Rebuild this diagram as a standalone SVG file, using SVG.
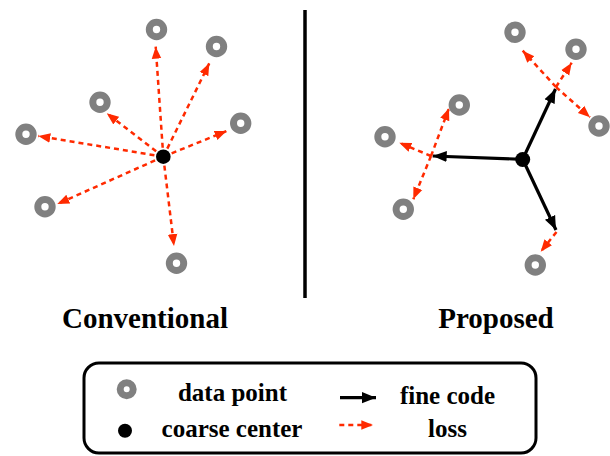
<svg xmlns="http://www.w3.org/2000/svg" width="610" height="456" viewBox="0 0 610 456">
<style>
.ring{fill:#fff;stroke:#808080;stroke-width:7}
.dot{fill:#000}
.loss{stroke:#ff2a00;stroke-width:2.5;stroke-dasharray:5 4;fill:none;marker-end:url(#redHead)}
.code{stroke:#000;stroke-width:3.2;fill:none;marker-end:url(#blackHead)}
.t{font-family:"Liberation Serif","Times New Roman",serif;font-weight:bold;fill:#000;text-anchor:middle}
.h{font-size:29px}
.l{font-size:25px}
</style>
<defs>
<marker id="redHead" markerUnits="userSpaceOnUse" markerWidth="12" markerHeight="12" refX="10" refY="5" orient="auto" viewBox="0 0 10 10">
<path d="M0,1 L10,5 L0,9 Z" fill="#ff2a00"/>
</marker>
<marker id="blackHead" markerUnits="userSpaceOnUse" markerWidth="14" markerHeight="14" refX="10" refY="5" orient="auto" viewBox="0 0 10 10">
<path d="M0,1 L10,5 L0,9 Z" fill="#000"/>
</marker>
</defs>

<g id="connectors">
<line class="loss" x1="163.3" y1="156.7" x2="155.7" y2="46.7"/>
<line class="loss" x1="163.3" y1="156.7" x2="209.3" y2="63.3"/>
<line class="loss" x1="163.3" y1="156.7" x2="106.7" y2="113.3"/>
<line class="loss" x1="163.3" y1="156.7" x2="38.3" y2="136"/>
<line class="loss" x1="163.3" y1="156.7" x2="226.7" y2="131"/>
<line class="loss" x1="163.3" y1="156.7" x2="57.3" y2="204"/>
<line class="loss" x1="163.3" y1="156.7" x2="174" y2="246"/>
<line class="code" x1="522.7" y1="159.3" x2="432.7" y2="156"/>
<line class="code" x1="522.7" y1="159.3" x2="555.5" y2="89"/>
<line class="code" x1="522.7" y1="159.3" x2="556" y2="230"/>
<line class="loss" x1="431" y1="156" x2="449" y2="108.3"/>
<line class="loss" x1="431" y1="156" x2="399.3" y2="142.7"/>
<line class="loss" x1="431" y1="156" x2="413.3" y2="199.3"/>
<line class="loss" x1="556" y1="87" x2="522.7" y2="50.7"/>
<line class="loss" x1="556" y1="87" x2="571.7" y2="62.7"/>
<line class="loss" x1="556" y1="87" x2="590" y2="117.3"/>
<line class="loss" x1="556.5" y1="232" x2="540.7" y2="251.7"/>
<line x1="305" y1="10" x2="305" y2="298" stroke="#000" stroke-width="3.5"/>
</g>

<g id="conventional">
<circle class="ring" cx="156.5" cy="29.5" r="7.2"/>
<circle class="ring" cx="216.5" cy="46.5" r="7.2"/>
<circle class="ring" cx="100" cy="102.3" r="7.2"/>
<circle class="ring" cx="26" cy="134.3" r="7.2"/>
<circle class="ring" cx="240.7" cy="123.3" r="7.2"/>
<circle class="ring" cx="45" cy="206.7" r="7.2"/>
<circle class="ring" cx="176.5" cy="263.3" r="7.2"/>
<circle class="dot" cx="163.3" cy="156.7" r="7.3"/>
<text class="t h" x="145" y="328">Conventional</text>
</g>

<g id="proposed">
<circle class="ring" cx="515" cy="32.3" r="7.2"/>
<circle class="ring" cx="576" cy="49.3" r="7.2"/>
<circle class="ring" cx="599" cy="126" r="7.2"/>
<circle class="ring" cx="459.3" cy="105" r="7.2"/>
<circle class="ring" cx="385" cy="136.7" r="7.2"/>
<circle class="ring" cx="403.3" cy="209.3" r="7.2"/>
<circle class="ring" cx="535.3" cy="265" r="7.2"/>
<circle class="dot" cx="522.7" cy="159.5" r="7.5"/>
<text class="t h" x="496" y="328">Proposed</text>
</g>

<g id="legend">
<rect x="84" y="363" width="452" height="90" rx="15" ry="15" fill="#fff" stroke="#000" stroke-width="3"/>
<circle class="ring" cx="126.7" cy="389.3" r="6.5"/>
<text class="t l" x="232.5" y="400.5">data point</text>
<circle class="dot" cx="125" cy="430.7" r="7"/>
<text class="t l" x="232" y="436.5">coarse center</text>
<line class="code" x1="340" y1="397.7" x2="376" y2="397.7"/>
<text class="t l" x="447.5" y="404">fine code</text>
<line class="loss" x1="339.3" y1="425" x2="373.3" y2="425"/>
<text class="t l" x="447.5" y="436.5">loss</text>
</g>
</svg>
